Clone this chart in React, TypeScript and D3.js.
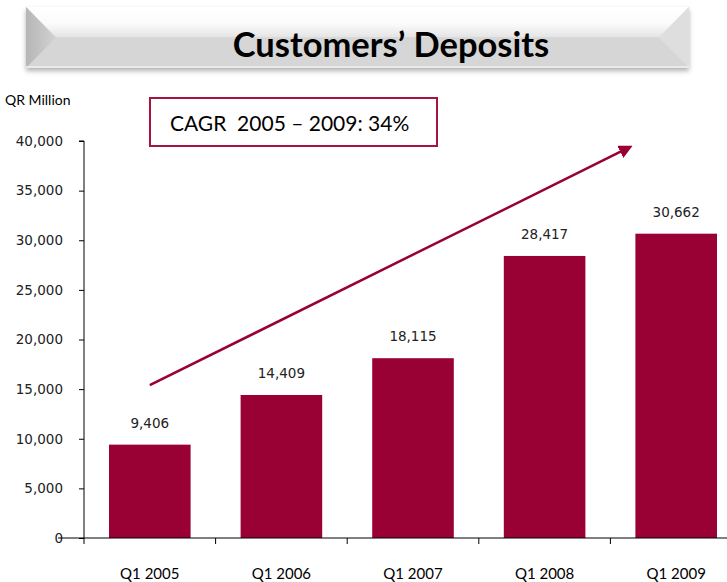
import { useEffect, useRef } from 'react';
import * as d3 from 'd3';

const categories = ['Q1 2005', 'Q1 2006', 'Q1 2007', 'Q1 2008', 'Q1 2009'];
const deposits = [9406, 14409, 18115, 28417, 30662];
const yTicks = [0, 5000, 10000, 15000, 20000, 25000, 30000, 35000, 40000];
// trend arrow, in category index / value units
const arrowFrom = [0, 15400];
const arrowTo = [3.65, 39400];
const title = 'Customers\u2019 Deposits';
const unitLabel = 'QR Million';
const cagrText = 'CAGR  2005 \u2013 2009: 34%';

export default function App() {
  const svgRef = useRef<SVGSVGElement>(null);

  useEffect(() => {
    const W = 727;
    const H = 582;
    const svg = d3.select(svgRef.current).attr('width', W).attr('height', H);
    svg.selectAll('*').remove();

    const barColor = '#990033';
    const defs = svg.append('defs');

    // Banner gradients
    const topGrad = defs.append('linearGradient').attr('id', 'topGrad')
      .attr('x1', 0).attr('y1', 0).attr('x2', 0).attr('y2', 1);
    topGrad.append('stop').attr('offset', '0%').attr('stop-color', '#ffffff');
    topGrad.append('stop').attr('offset', '55%').attr('stop-color', '#fbfbfb');
    topGrad.append('stop').attr('offset', '100%').attr('stop-color', '#e4e4e4');
    const leftGrad = defs.append('linearGradient').attr('id', 'leftGrad')
      .attr('x1', 0).attr('y1', 0).attr('x2', 1).attr('y2', 0);
    leftGrad.append('stop').attr('offset', '0%').attr('stop-color', '#b6b6b6');
    leftGrad.append('stop').attr('offset', '100%').attr('stop-color', '#d2d2d2');

    const shadow = defs.append('filter').attr('id', 'shadow')
      .attr('x', '-5%').attr('y', '-20%').attr('width', '110%').attr('height', '160%');
    shadow.append('feDropShadow').attr('dx', 0).attr('dy', 3)
      .attr('stdDeviation', 2.5).attr('flood-color', '#000').attr('flood-opacity', 0.3);

    defs.append('marker').attr('id', 'arrowHead')
      .attr('viewBox', '0 0 10 10').attr('refX', 8).attr('refY', 5)
      .attr('markerWidth', 5.5).attr('markerHeight', 5.5)
      .attr('orient', 'auto')
      .append('path').attr('d', 'M0,0 L10,5 L0,10 Z').attr('fill', barColor);

    // Banner
    const bx0 = 26, by0 = 7, bx1 = 689, by1 = 68, bev = 30;
    const mid = (by0 + by1) / 2;
    const banner = svg.append('g');
    banner.append('rect').attr('x', bx0).attr('y', by0)
      .attr('width', bx1 - bx0).attr('height', by1 - by0)
      .attr('fill', '#d6d6d6').attr('filter', 'url(#shadow)');
    banner.append('polygon')
      .attr('points', `${bx0},${by0} ${bx1},${by0} ${bx1 - bev},${mid} ${bx0 + bev},${mid}`)
      .attr('fill', 'url(#topGrad)');
    banner.append('polygon')
      .attr('points', `${bx0},${by1} ${bx1},${by1} ${bx1 - bev},${mid} ${bx0 + bev},${mid}`)
      .attr('fill', '#d6d6d6');
    banner.append('polygon')
      .attr('points', `${bx0},${by0} ${bx0 + bev},${mid} ${bx0},${by1}`)
      .attr('fill', 'url(#leftGrad)');
    banner.append('polygon')
      .attr('points', `${bx1},${by0} ${bx1 - bev},${mid} ${bx1},${by1}`)
      .attr('fill', '#dedede');
    banner.append('line')
      .attr('x1', bx0).attr('x2', bx1).attr('y1', by1 - 1).attr('y2', by1 - 1)
      .attr('stroke', '#efefef').attr('stroke-width', 1.5);
    banner.append('text')
      .attr('x', 391).attr('y', 57)
      .attr('text-anchor', 'middle')
      .style('font-family', 'Lato, "Open Sans", sans-serif')
      .style('font-weight', 'bold')
      .style('font-size', '34.5px')
      .attr('fill', '#000')
      .text(title);

    // Chart area
    const left = 84, right = 742, top = 141, bottom = 538;
    const x = d3.scaleBand().domain(categories).range([left, right]).paddingInner(0.38).paddingOuter(0.19);
    const y = d3.scaleLinear().domain([0, 40000]).range([bottom, top]);
    const xi = d3.scaleLinear().domain([0, 1]).range([
      x(categories[0])! + x.bandwidth() / 2,
      x(categories[1])! + x.bandwidth() / 2,
    ]);

    svg.append('text')
      .attr('x', 5).attr('y', 105)
      .style('font-family', 'Lato, "Open Sans", sans-serif')
      .style('font-size', '14px')
      .attr('fill', '#000')
      .text(unitLabel);

    // Bars
    svg.selectAll('.bar')
      .data(deposits)
      .join('rect')
      .attr('class', 'bar')
      .attr('x', (_, i) => x(categories[i])!)
      .attr('y', d => y(d))
      .attr('width', x.bandwidth())
      .attr('height', d => y(0) - y(d))
      .attr('fill', barColor);

    svg.selectAll('.val')
      .data(deposits)
      .join('text')
      .attr('class', 'val')
      .attr('x', (_, i) => x(categories[i])! + x.bandwidth() / 2)
      .attr('y', d => y(d) - 17)
      .attr('text-anchor', 'middle')
      .style('font-family', '"DejaVu Sans", sans-serif')
      .style('font-size', '13.5px')
      .attr('fill', '#222')
      .text(d => d3.format(',')(d));

    // Y axis
    const yAxis = svg.append('g')
      .attr('transform', `translate(${left},0)`)
      .call(d3.axisLeft(y).tickValues(yTicks).tickSize(5).tickPadding(16).tickFormat(d => d3.format(',')(d as number)));
    yAxis.select('.domain').attr('d', `M-5,${top}H0V${bottom}`).attr('stroke', '#000');
    yAxis.selectAll('text')
      .style('font-family', '"DejaVu Sans", sans-serif')
      .style('font-size', '13.5px')
      .attr('fill', '#222');

    // X axis (ticks at band boundaries)
    const step = x.step();
    const boundaries = categories.map((_, i) => left + i * step);
    const xAxis = svg.append('g');
    xAxis.append('line')
      .attr('x1', left - 26).attr('x2', W)
      .attr('y1', bottom).attr('y2', bottom)
      .attr('stroke', '#000');
    xAxis.selectAll('.xt')
      .data(boundaries)
      .join('line')
      .attr('class', 'xt')
      .attr('x1', d => d).attr('x2', d => d)
      .attr('y1', bottom).attr('y2', bottom + 6)
      .attr('stroke', '#000');
    xAxis.selectAll('.xl')
      .data(categories)
      .join('text')
      .attr('class', 'xl')
      .attr('x', d => x(d)! + x.bandwidth() / 2)
      .attr('y', 579)
      .attr('text-anchor', 'middle')
      .style('font-family', '"Liberation Sans Narrow", Lato, sans-serif')
      .style('font-size', '15px')
      .attr('fill', '#000')
      .text(d => d);

    // CAGR box
    svg.append('rect')
      .attr('x', 150).attr('y', 98)
      .attr('width', 287).attr('height', 48)
      .attr('fill', '#fff')
      .attr('stroke', '#a3153e')
      .attr('stroke-width', 2);
    svg.append('text')
      .attr('x', 170).attr('y', 131)
      .attr('xml:space', 'preserve')
      .style('white-space', 'pre')
      .style('font-family', 'Lato, "Open Sans", sans-serif')
      .style('font-size', '21px')
      .attr('fill', '#000')
      .text(cagrText);

    // Trend arrow
    svg.append('line')
      .attr('x1', xi(arrowFrom[0])).attr('y1', y(arrowFrom[1]))
      .attr('x2', xi(arrowTo[0])).attr('y2', y(arrowTo[1]))
      .attr('stroke', barColor)
      .attr('stroke-width', 2.5)
      .attr('marker-end', 'url(#arrowHead)');
  }, []);

  return (
    <div>
      <svg ref={svgRef} style={{ position: 'absolute', left: 0, top: 0 }}></svg>
    </div>
  );
}
